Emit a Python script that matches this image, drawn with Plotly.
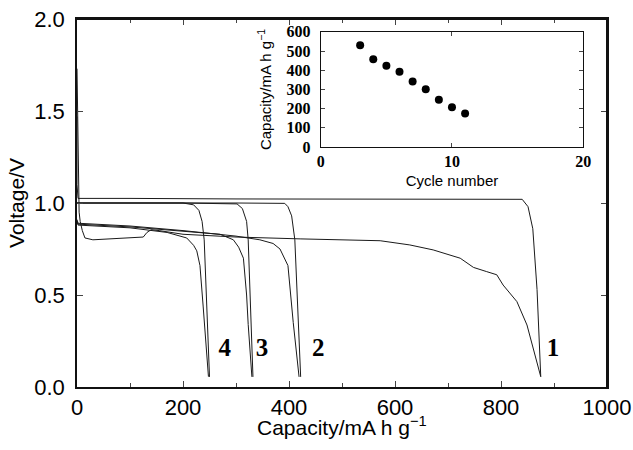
import plotly.graph_objects as go

# ---- main chart data: capacity (mA h g-1) vs voltage (V) ----
dis1_cap = [0, 1, 3, 4, 6, 10, 15, 30, 125, 132, 140, 155, 200, 300, 421, 572, 628, 672, 723, 748, 773, 792, 804, 814, 830, 849, 861, 875]
dis1_v = [1.73, 1.50, 1.20, 0.95, 0.90, 0.85, 0.81, 0.80, 0.815, 0.84, 0.855, 0.85, 0.83, 0.815, 0.805, 0.795, 0.772, 0.745, 0.70, 0.65, 0.627, 0.61, 0.554, 0.518, 0.464, 0.337, 0.21, 0.056]
chg1_cap = [875, 868, 860, 851, 840, 600, 300, 100, 2, 0, 0]
chg1_v = [0.056, 0.53, 0.86, 0.98, 1.02, 1.02, 1.022, 1.025, 1.025, 1.1, 1.47]

dis2_cap = [0, 2, 100, 200, 300, 345, 370, 383, 398, 408, 419]
dis2_v = [0.91, 0.89, 0.875, 0.85, 0.82, 0.80, 0.78, 0.75, 0.66, 0.35, 0.055]
chg2_cap = [422, 416, 411, 405, 398, 392, 300, 100, 0]
chg2_v = [0.055, 0.45, 0.80, 0.93, 0.98, 0.998, 1.0, 1.0, 1.0]

dis3_cap = [0, 2, 100, 200, 270, 295, 305, 314, 320, 323, 330]
dis3_v = [0.90, 0.885, 0.87, 0.845, 0.83, 0.80, 0.76, 0.70, 0.50, 0.34, 0.055]
chg3_cap = [332, 327, 323, 320, 312, 302, 200, 0]
chg3_v = [0.055, 0.45, 0.80, 0.90, 0.97, 0.995, 1.0, 1.0]

dis4_cap = [0, 2, 100, 170, 207, 220, 226, 232, 238, 248]
dis4_v = [0.90, 0.88, 0.865, 0.84, 0.81, 0.77, 0.74, 0.66, 0.44, 0.056]
chg4_cap = [250, 245, 240, 236, 230, 220, 200, 0]
chg4_v = [0.055, 0.45, 0.80, 0.90, 0.96, 0.99, 1.0, 1.0]

curve_labels = ["1", "2", "3", "4"]
label_cap = [898, 455, 349, 279]
label_v = [0.20, 0.20, 0.20, 0.20]

# ---- inset data ----
cycle_number = [3, 4, 5, 6, 7, 8, 9, 10, 11]
cycle_capacity = [530, 458, 423, 392, 341, 301, 247, 208, 175]

x_range = [0, 1000]
y_range = [0, 2.0]
x_ticks = [0, 200, 400, 600, 800, 1000]
y_ticks = [0.0, 0.5, 1.0, 1.5, 2.0]
inset_x_ticks = [0, 10, 20]
inset_y_ticks = [0, 100, 200, 300, 400, 500, 600]

LINE = dict(color="#1a1a1a", width=1)
fig = go.Figure()
for cx, vy in [(dis1_cap, dis1_v), (chg1_cap, chg1_v), (dis2_cap, dis2_v), (chg2_cap, chg2_v),
               (dis3_cap, dis3_v), (chg3_cap, chg3_v), (dis4_cap, dis4_v), (chg4_cap, chg4_v)]:
    fig.add_trace(go.Scatter(x=cx, y=vy, mode="lines", line=LINE, showlegend=False, hoverinfo="skip"))

# top and right edges of the main frame, taken from the axis ranges
fig.add_trace(go.Scatter(x=[x_range[0], x_range[1], x_range[1]], y=[y_range[1], y_range[1], y_range[0]],
                         mode="lines", line=dict(color="#111", width=2), cliponaxis=False,
                         showlegend=False, hoverinfo="skip"))

fig.add_trace(go.Scatter(x=label_cap, y=label_v, mode="text", text=curve_labels,
                         textfont=dict(family="Liberation Serif", size=25, color="black", weight="bold"),
                         showlegend=False))

fig.add_trace(go.Scatter(x=cycle_number, y=cycle_capacity, mode="markers",
                         marker=dict(color="black", size=8), xaxis="x2", yaxis="y2", showlegend=False))

SANS = "Liberation Sans, Arial, sans-serif"
SERIF_B = dict(family="Liberation Serif", size=16, weight="bold", color="black")
fig.update_layout(
    width=633, height=450,
    margin=dict(l=77, r=26, t=19, b=63),
    paper_bgcolor="white", plot_bgcolor="white",
    font=dict(family=SANS, color="black"),
    xaxis=dict(range=x_range, tickvals=x_ticks, ticks="inside", ticklen=6, tickwidth=1,
               showline=True, linecolor="#111", linewidth=1.5, mirror="allticks", showgrid=False,
               zeroline=False, tickfont=dict(size=22), automargin=False,
               ticklabeloverflow="allow",
               minor=dict(dtick=100, ticks="inside", ticklen=4, tickwidth=1, showgrid=False)),
    yaxis=dict(range=y_range, tickvals=y_ticks, tickformat=".1f", ticks="inside", ticklen=6, tickwidth=1,
               showline=True, linecolor="#111", linewidth=1.5, mirror="allticks", showgrid=False,
               zeroline=False, tickfont=dict(size=22), ticklabelstandoff=6, automargin=False,
               ticklabeloverflow="allow",
               title=dict(text="Voltage/V", font=dict(size=21), standoff=4)),
    xaxis2=dict(domain=[0.460, 0.955], anchor="y2", range=[0, 20], tickvals=inset_x_ticks,
                ticks="inside", ticklen=4, showline=True, linecolor="#111", linewidth=1,
                mirror="allticks", showgrid=False, zeroline=False, automargin=False,
                tickfont=SERIF_B, ticklabeloverflow="allow",
                title=dict(text="Cycle number", font=dict(size=15), standoff=6)),
    yaxis2=dict(domain=[0.652, 0.965], anchor="x2", range=[0, 600], tickvals=inset_y_ticks,
                ticks="inside", ticklen=4, showline=True, linecolor="#111", linewidth=1,
                mirror="allticks", showgrid=False, zeroline=False, automargin=False,
                tickfont=SERIF_B, ticklabelstandoff=6, ticklabeloverflow="allow",
                title=dict(text="Capacity/mA h g<sup>−1</sup>", font=dict(size=15), standoff=11)),
    annotations=[dict(text="Capacity/mA h g<sup>−1</sup>", xref="paper", yref="paper",
                      x=0.5, y=0, yshift=-24, xanchor="center", yanchor="top", showarrow=False,
                      font=dict(size=21, family=SANS, color="black"))],
    shapes=[
        dict(type="line", xref="paper", yref="paper", x0=0, x1=1, y0=1, y1=1,
             line=dict(color="#111", width=2), layer="above"),
        dict(type="line", xref="paper", yref="paper", x0=1, x1=1, y0=0, y1=1,
             line=dict(color="#111", width=2), layer="above"),
    ],
)

# remove the browser's default 8px body margin so the figure sits at the window's corner
fig.write_html("out.html", config={"displayModeBar": False},
               post_script="document.body.style.margin='0';document.body.style.overflow='hidden';")
